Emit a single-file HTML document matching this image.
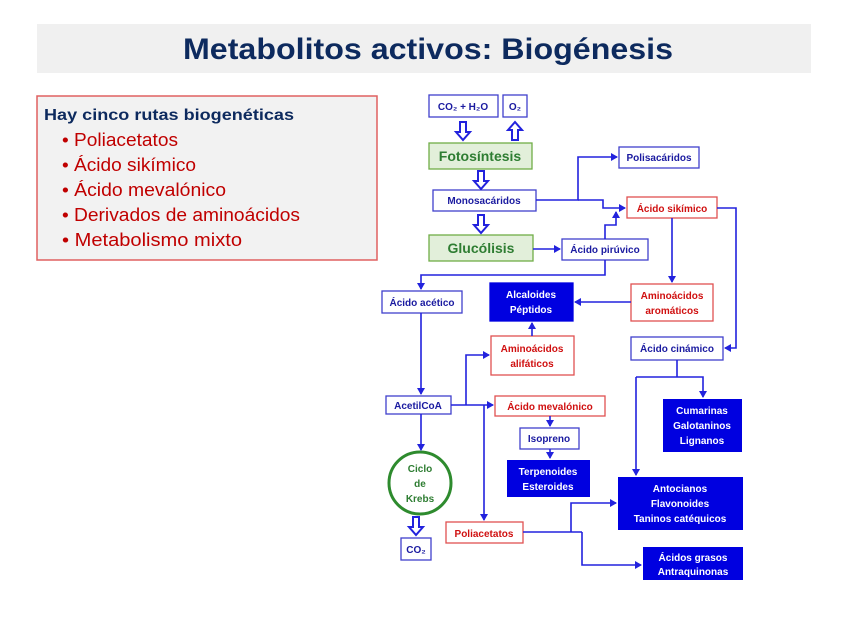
<!DOCTYPE html>
<html><head><meta charset="utf-8"><style>
html,body{margin:0;padding:0;background:#fff;}
svg{display:block;font-family:"Liberation Sans",sans-serif;}
</style></head><body>
<svg width="848" height="636" viewBox="0 0 848 636" xmlns="http://www.w3.org/2000/svg">
<defs>
<marker id="a" markerWidth="8" markerHeight="8" refX="6" refY="4" orient="auto" markerUnits="userSpaceOnUse"><path d="M0,0 L7,4 L0,8 z" fill="#2222dd"/></marker>
</defs>
<rect x="37" y="24" width="774" height="49" fill="#f0f0f0"/>
<text x="428" y="59" text-anchor="middle" font-size="30" font-weight="bold" fill="#0d2a5e" textLength="490" lengthAdjust="spacingAndGlyphs">Metabolitos activos: Biogénesis</text>
<rect x="37" y="96" width="340" height="164" fill="#f2f2f2" stroke="#e06060" stroke-width="1.5"/>
<text x="44" y="120" font-size="16" font-weight="bold" fill="#0d2a5e" textLength="250" lengthAdjust="spacingAndGlyphs">Hay cinco rutas biogenéticas</text>
<g font-size="18" fill="#c00000">
<text x="62" y="146" textLength="116" lengthAdjust="spacingAndGlyphs">• Poliacetatos</text>
<text x="62" y="171" textLength="134" lengthAdjust="spacingAndGlyphs">• Ácido sikímico</text>
<text x="62" y="196" textLength="164" lengthAdjust="spacingAndGlyphs">• Ácido mevalónico</text>
<text x="62" y="221" textLength="238" lengthAdjust="spacingAndGlyphs">• Derivados de aminoácidos</text>
<text x="62" y="246" textLength="180" lengthAdjust="spacingAndGlyphs">• Metabolismo mixto</text>
</g>
<g stroke-width="1.3" font-size="10" font-weight="bold" text-anchor="middle">
<rect x="429" y="95" width="69" height="22" fill="#fff" stroke="#4040cc"/>
<text x="463" y="110" fill="#1a1aa0">CO₂ + H₂O</text>
<rect x="503" y="95" width="24" height="22" fill="#fff" stroke="#4040cc"/>
<text x="515" y="110" fill="#1a1aa0">O₂</text>
<rect x="429" y="143" width="103" height="26" fill="#e2efda" stroke="#70ad47"/>
<text x="480" y="161" fill="#2e7d32" font-size="14">Fotosíntesis</text>
<rect x="619" y="147" width="80" height="21" fill="#fff" stroke="#4040cc"/>
<text x="659" y="161" fill="#1a1aa0">Polisacáridos</text>
<rect x="433" y="190" width="103" height="21" fill="#fff" stroke="#4040cc"/>
<text x="484" y="204" fill="#1a1aa0">Monosacáridos</text>
<rect x="627" y="197" width="90" height="21" fill="#fff" stroke="#e05050"/>
<text x="672" y="212" fill="#d01010">Ácido sikímico</text>
<rect x="429" y="235" width="104" height="26" fill="#e2efda" stroke="#70ad47"/>
<text x="481" y="253" fill="#2e7d32" font-size="14">Glucólisis</text>
<rect x="562" y="239" width="86" height="21" fill="#fff" stroke="#4040cc"/>
<text x="605" y="253" fill="#1a1aa0">Ácido pirúvico</text>
<rect x="382" y="291" width="80" height="22" fill="#fff" stroke="#4040cc"/>
<text x="422" y="306" fill="#1a1aa0">Ácido acético</text>
<rect x="490" y="283" width="83" height="38" fill="#0000e0" stroke="#0000e0"/>
<text x="531" y="298" fill="#fff">Alcaloides</text>
<text x="531" y="313" fill="#fff">Péptidos</text>
<rect x="631" y="284" width="82" height="37" fill="#fff" stroke="#e05050"/>
<text x="672" y="299" fill="#d01010">Aminoácidos</text>
<text x="672" y="314" fill="#d01010">aromáticos</text>
<rect x="491" y="336" width="83" height="39" fill="#fff" stroke="#e05050"/>
<text x="532" y="352" fill="#d01010">Aminoácidos</text>
<text x="532" y="367" fill="#d01010">alifáticos</text>
<rect x="631" y="337" width="92" height="23" fill="#fff" stroke="#4040cc"/>
<text x="677" y="352" fill="#1a1aa0">Ácido cinámico</text>
<rect x="386" y="396" width="65" height="18" fill="#fff" stroke="#4040cc"/>
<text x="418" y="409" fill="#1a1aa0">AcetilCoA</text>
<rect x="495" y="396" width="110" height="20" fill="#fff" stroke="#e05050"/>
<text x="550" y="410" fill="#d01010">Ácido mevalónico</text>
<rect x="520" y="428" width="59" height="21" fill="#fff" stroke="#4040cc"/>
<text x="549" y="442" fill="#1a1aa0">Isopreno</text>
<rect x="507" y="460" width="83" height="37" fill="#0000e0"/>
<text x="548" y="475" fill="#fff">Terpenoides</text>
<text x="548" y="490" fill="#fff">Esteroides</text>
<rect x="663" y="399" width="79" height="53" fill="#0000e0"/>
<text x="702" y="414" fill="#fff">Cumarinas</text>
<text x="702" y="429" fill="#fff">Galotaninos</text>
<text x="702" y="444" fill="#fff">Lignanos</text>
<rect x="618" y="477" width="125" height="53" fill="#0000e0"/>
<text x="680" y="492" fill="#fff">Antocianos</text>
<text x="680" y="507" fill="#fff">Flavonoides</text>
<text x="680" y="522" fill="#fff">Taninos catéquicos</text>
<rect x="643" y="547" width="100" height="33" fill="#0000e0"/>
<text x="693" y="561" fill="#fff">Ácidos grasos</text>
<text x="693" y="575" fill="#fff">Antraquinonas</text>
<circle cx="420" cy="483" r="31" fill="#fff" stroke="#2e8b2e" stroke-width="3"/>
<text x="420" y="472" fill="#2e7d32">Ciclo</text>
<text x="420" y="487" fill="#2e7d32">de</text>
<text x="420" y="502" fill="#2e7d32">Krebs</text>
<rect x="446" y="522" width="77" height="21" fill="#fff" stroke="#e05050"/>
<text x="484" y="537" fill="#d01010">Poliacetatos</text>
<rect x="401" y="538" width="30" height="22" fill="#fff" stroke="#4040cc"/>
<text x="416" y="553" fill="#1a1aa0">CO₂</text>
</g>
<g fill="#fff" stroke="#2222dd" stroke-width="2">
<path d="M460,122 h6 v10 h4 l-7,8 l-7,-8 h4 z"/>
<path d="M512,140 h6 v-10 h4 l-7,-8 l-7,8 h4 z"/>
<path d="M478,171 h6 v10 h4 l-7,8 l-7,-8 h4 z"/>
<path d="M478,215 h6 v10 h4 l-7,8 l-7,-8 h4 z"/>
<path d="M413,517 h6 v10 h4 l-7,8 l-7,-8 h4 z"/>
</g>
<g fill="none" stroke="#2222dd" stroke-width="1.6">
<path d="M536,200 H578 V157 H617" marker-end="url(#a)"/>
<path d="M578,200 H603 V208 H625" marker-end="url(#a)"/>
<path d="M605,239 V225 H616 V212" marker-end="url(#a)"/>
<path d="M533,249 H560" marker-end="url(#a)"/>
<path d="M605,260 V275 H421 V289" marker-end="url(#a)"/>
<path d="M717,208 H736 V348 H725" marker-end="url(#a)"/>
<path d="M672,218 V282" marker-end="url(#a)"/>
<path d="M631,302 H575" marker-end="url(#a)"/>
<path d="M421,313 V394" marker-end="url(#a)"/>
<path d="M451,405 H493" marker-end="url(#a)"/>
<path d="M466,405 V355 H489" marker-end="url(#a)"/>
<path d="M484,405 V520" marker-end="url(#a)"/>
<path d="M532,336 V323" marker-end="url(#a)"/>
<path d="M550,416 V426" marker-end="url(#a)"/>
<path d="M550,449 V458" marker-end="url(#a)"/>
<path d="M421,414 V450" marker-end="url(#a)"/>
<path d="M677,360 V377"/>
<path d="M636,377 H703 V397" marker-end="url(#a)"/>
<path d="M636,377 V475" marker-end="url(#a)"/>
<path d="M523,532 H582"/>
<path d="M571,532 V503 H616" marker-end="url(#a)"/>
<path d="M582,532 V565 H641" marker-end="url(#a)"/>
</g>
</svg>
</body></html>
